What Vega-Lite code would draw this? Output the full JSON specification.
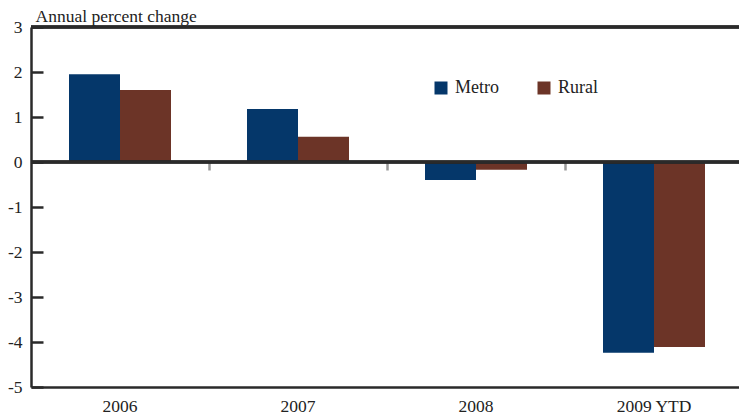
{
  "$schema": "https://vega.github.io/schema/vega-lite/v6.json",
  "width": 712,
  "height": 360,
  "autosize": {"type": "none"},
  "padding": {"left": 31, "top": 27, "right": 0, "bottom": 29},
  "background": "white",
  "config": {
    "font": "Liberation Serif",
    "view": {"stroke": null}
  },
  "data": {
    "values": [
      {"year": "2006", "series": "Metro", "value": 1.95},
      {"year": "2006", "series": "Rural", "value": 1.60},
      {"year": "2007", "series": "Metro", "value": 1.18},
      {"year": "2007", "series": "Rural", "value": 0.56},
      {"year": "2008", "series": "Metro", "value": -0.40},
      {"year": "2008", "series": "Rural", "value": -0.17},
      {"year": "2009 YTD", "series": "Metro", "value": -4.24},
      {"year": "2009 YTD", "series": "Rural", "value": -4.11}
    ]
  },
  "layer": [
    {
      "mark": {"type": "bar"},
      "encoding": {
        "x": {
          "field": "year", "type": "nominal", "sort": null,
          "scale": {"paddingInner": 0.427, "paddingOuter": 0.2135},
          "axis": {
            "orient": "bottom", "title": null, "labelAngle": 0,
            "labelFontSize": 17.5, "labelColor": "#222", "labelPadding": 10,
            "ticks": false, "domainColor": "#2a2a2a", "domainWidth": 2.5
          }
        },
        "xOffset": {"field": "series", "type": "nominal", "scale": {"paddingInner": 0, "paddingOuter": 0}},
        "y": {
          "field": "value", "type": "quantitative",
          "scale": {"domain": [-5, 3], "nice": false, "zero": false},
          "axis": {
            "values": [-5, -4, -3, -2, -1, 0, 1, 2, 3],
            "labelExpr": "datum.value < 0 ? '-' + abs(datum.value) : '' + datum.value",
            "grid": false,
            "title": "Annual percent change",
            "titleAngle": 0, "titleAlign": "left", "titleBaseline": "alphabetic",
            "titleX": 4, "titleY": -6, "titleFontSize": 17.5, "titleFontWeight": "normal", "titleColor": "#222",
            "labelFontSize": 17.5, "labelColor": "#222", "labelPadding": 21,
            "tickSize": -12, "tickWidth": 2.5, "tickColor": "#2a2a2a",
            "domainColor": "#2a2a2a", "domainWidth": 2.5
          }
        },
        "color": {
          "field": "series", "type": "nominal",
          "scale": {"domain": ["Metro", "Rural"], "range": ["#05376a", "#6c3427"]},
          "legend": {
            "title": null, "orient": "none", "direction": "horizontal",
            "legendX": 401, "legendY": 52,
            "symbolType": "square", "symbolSize": 169, "symbolStrokeWidth": 0,
            "labelFontSize": 18, "labelColor": "#222", "labelOffset": 5,
            "columnPadding": 36, "padding": 0
          }
        }
      }
    },
    {
      "mark": {"type": "rule", "color": "#2a2a2a", "strokeWidth": 2.5},
      "encoding": {"y": {"datum": 0, "type": "quantitative"}}
    },
    {
      "mark": {"type": "rule", "color": "#2a2a2a", "strokeWidth": 2.5},
      "encoding": {"y": {"datum": 3, "type": "quantitative"}}
    },
    {
      "mark": {"type": "bar", "opacity": 0},
      "encoding": {
        "x": {
          "field": "year", "type": "nominal", "sort": null,
          "axis": {
            "orient": "bottom", "offset": -225, "title": null,
            "labels": false, "domain": false,
            "tickBand": "center", "tickOffset": 89, "tickColor": "#9a9a9a", "tickWidth": 2.5, "tickSize": 8
          }
        },
        "y": {"field": "value", "type": "quantitative"}
      }
    }
  ],
  "resolve": {"axis": {"x": "independent"}}
}
